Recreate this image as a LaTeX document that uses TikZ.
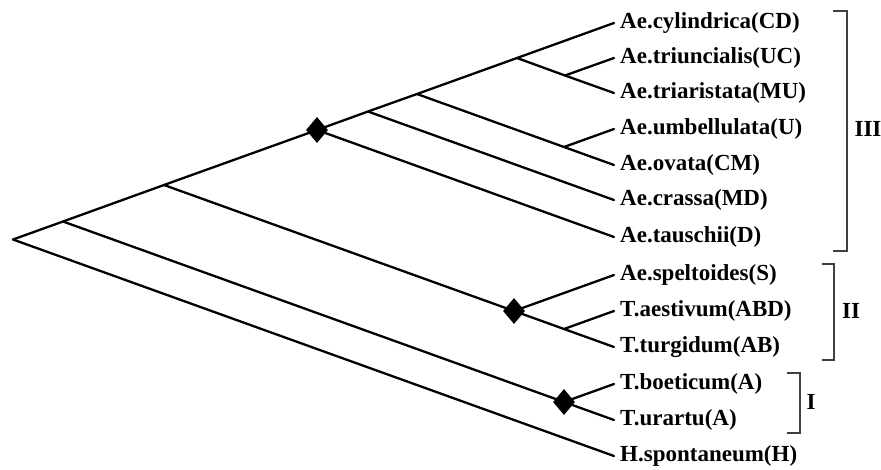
\documentclass[tikz,border=0pt]{standalone}
\usepackage{fontspec}
\setmainfont{Liberation Serif}
\usetikzlibrary{positioning, shapes.geometric}

\tikzset{
  branch/.style={line width=2.3pt, line cap=round, line join=round},
  taxon/.style={inner sep=0pt, font=\fontsize{23}{26}\selectfont\bfseries},
  knot/.style={diamond, fill=black, inner sep=0pt, minimum width=22pt, minimum height=26pt},
  clade/.style={line width=1.4pt, black!75},
  cladename/.style={inner sep=0pt, font=\fontsize{23}{26}\selectfont\bfseries}
}

\begin{document}
\begin{tikzpicture}[x=1pt, y=-1pt]
  \useasboundingbox (0,0) rectangle (881,469);
  % leaves
  \coordinate (l1) at (614, 23); %cylindrica
  \coordinate (l2) at (614, 58); %triuncialis
  \coordinate (l3) at (614, 93); %triaristata
  \coordinate (l4) at (614, 129); %umbellulata
  \coordinate (l5) at (614, 165); %ovata
  \coordinate (l6) at (614, 200); %crassa
  \coordinate (l7) at (614, 237); %tauschii
  \coordinate (l8) at (614, 275); %speltoides
  \coordinate (l9) at (614, 311); %aestivum
  \coordinate (l10) at (614, 347); %turgidum
  \coordinate (l11) at (614, 384); %boeticum
  \coordinate (l12) at (614, 420); %urartu
  \coordinate (l13) at (614, 456); %spontaneum
  % inner nodes
  \coordinate (root) at (13, 239.5); %根
  \coordinate (nA) at (63, 221.5);
  \coordinate (nB) at (164, 185);
  \coordinate (nC) at (317, 130); %Aegilops
  \coordinate (nD) at (368, 111.5);
  \coordinate (nE) at (417, 94);
  \coordinate (nF) at (517, 58);
  \coordinate (nG) at (565, 75.5);
  \coordinate (nH) at (564, 147);
  \coordinate (nI) at (514, 311); %S, ABD, AB
  \coordinate (nJ) at (564, 329);
  \coordinate (nK) at (564, 402); %A
  % branches
  \draw[branch] (root)--(nA)--(nB)--(nC)--(nD)--(nE)--(nF)--(l1);
  \draw[branch] (root)--(l13);
  \draw[branch] (nA)--(nK)--(l12);
  \draw[branch] (nK)--(l11);
  \draw[branch] (nB)--(nI)--(nJ)--(l10);
  \draw[branch] (nI)--(l8);
  \draw[branch] (nJ)--(l9);
  \draw[branch] (nC)--(l7);
  \draw[branch] (nD)--(l6);
  \draw[branch] (nE)--(nH)--(l5);
  \draw[branch] (nH)--(l4);
  \draw[branch] (nF)--(nG)--(l3);
  \draw[branch] (nG)--(l2);
  % diamonds
  \node[knot] (kC) at (nC) {};
  \node[knot] (kI) at (nI) {};
  \node[knot] (kK) at (nK) {};
  % names
  \node[taxon, right=6pt of l1] (t1) {Ae.cylindrica(CD)};
  \node[taxon, right=6pt of l2] (t2) {Ae.triuncialis(UC)};
  \node[taxon, right=6pt of l3] (t3) {Ae.triaristata(MU)};
  \node[taxon, right=6pt of l4] (t4) {Ae.umbellulata(U)};
  \node[taxon, right=6pt of l5] (t5) {Ae.ovata(CM)};
  \node[taxon, right=6pt of l6] (t6) {Ae.crassa(MD)};
  \node[taxon, right=6pt of l7] (t7) {Ae.tauschii(D)};
  \node[taxon, right=6pt of l8] (t8) {Ae.speltoides(S)};
  \node[taxon, right=6pt of l9] (t9) {T.aestivum(ABD)};
  \node[taxon, right=6pt of l10] (t10) {T.turgidum(AB)};
  \node[taxon, right=6pt of l11] (t11) {T.boeticum(A)};
  \node[taxon, right=6pt of l12] (t12) {T.urartu(A)};
  \node[taxon, right=6pt of l13] (t13) {H.spontaneum(H)};
  % brackets
  \draw[clade] (833, 11)-|(847, 251)--(833, 251); %III
  \draw[clade] (822, 264)-|(834, 360)--(822, 360); %II
  \draw[clade] (787, 373)-|(800, 433)--(787, 433); %I
  \node[cladename] (g3) at (868, 129) {III};
  \node[cladename] (g2) at (851, 311) {II};
  \node[cladename] (g1) at (811, 402) {I};
\end{tikzpicture}
\end{document}
